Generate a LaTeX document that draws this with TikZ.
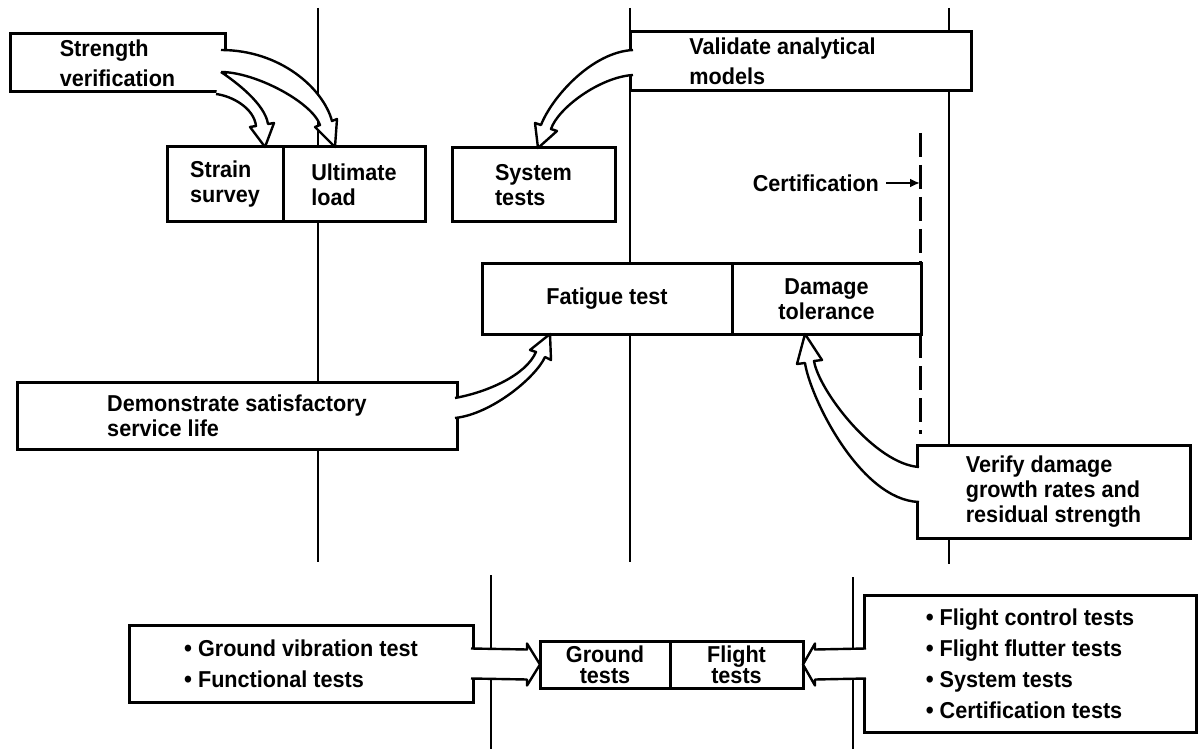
\documentclass[tikz,border=0pt]{standalone}
\usepackage{fontspec}
\setmainfont{Liberation Sans}[FakeStretch=0.94]
\usetikzlibrary{arrows.meta,calc,positioning}
\newcommand{\blt}{{\large\textbullet}\ }

\begin{document}
\begin{tikzpicture}[x=0.5pt,y=-0.5pt,
  box/.style={draw,line width=1.5pt,fill=white,inner sep=2pt,outer sep=0pt,align=left,
    font=\fontsize{11.5}{12.5}\selectfont\bfseries},
  smallbox/.style={box,align=center,font=\fontsize{11.5}{10.5}\selectfont\bfseries},
  band/.style={draw,fill=white,line width=1.2pt,line join=round},
  gate/.style={line width=1.3pt},
  certline/.style={line width=1.5pt,dash pattern=on 12pt off 4pt}]
  \useasboundingbox (0,0) rectangle (1201,749);
  \coordinate (g1) at (318,8);
  \coordinate (g2) at (630,8);
  \coordinate (g3) at (949,8);
  \coordinate (g1b) at (318,562);
  \coordinate (g2b) at (630,562);
  \coordinate (g3b) at (949,564);
  \coordinate (c1) at (920,133);
  \node[box,minimum width=107.5pt,minimum height=29pt] (strength) at (117.5,63) {Strength\\[2.5pt]verification};
  \node[box,minimum width=170.5pt,minimum height=29.5pt] (validate) at (800.5,61.5) {Validate analytical\hspace*{18pt}\\[2.5pt]models};
  \node[box,minimum width=58pt,minimum height=37.5pt] (strain) at (225,184.5) {Strain\\survey};
  \node[box,minimum width=71pt,minimum height=37.5pt,right=0pt of strain] (ultimate) {Ultimate\\load};
  \node[box,minimum width=81.5pt,minimum height=37pt] (system) at (533.5,185) {System\\tests};
  \node[box,minimum width=125pt,minimum height=35pt] (fatigue) at (607,299) {Fatigue test};
  \node[box,align=center,minimum width=94.5pt,minimum height=35pt,right=0pt of fatigue] (damage) {Damage\\tolerance};
  \node[box,minimum width=220pt,minimum height=33.5pt] (demonstrate) at (237,415.5) {Demonstrate satisfactory\\service life};
  \node[box,minimum width=136.5pt,minimum height=46.5pt] (verify) at (1053.5,491.5) {Verify damage\\growth rates and\\residual strength};
  \node[box,minimum width=172pt,minimum height=38.5pt] (groundlist) at (301,663.5) {\blt Ground vibration test\\[3pt]\blt Functional tests};
  \node[smallbox,minimum width=65pt,minimum height=23.5pt] (ground) at (605,664.5) {Ground\\tests};
  \node[smallbox,minimum width=66.5pt,minimum height=23.5pt,right=0pt of ground] (flight) {Flight\\tests};
  \node[box,minimum width=166pt,minimum height=68.5pt] (flightlist) at (1030,663.5) {\blt Flight control tests\\[3pt]\blt Flight flutter tests\\[3pt]\blt System tests\\[3pt]\blt Certification tests};
  \node[font=\fontsize{11.5}{12.5}\selectfont\bfseries,anchor=east] (cert) at (886,183) {Certification};

  \draw[gate] (g1) -- (g1 |- ultimate.north);
  \draw[gate] (g1 |- ultimate.south) -- (g1 |- demonstrate.north);
  \draw[gate] (g1 |- demonstrate.south) -- (g1b);
  \draw[gate] (g2) -- (g2 |- validate.north);
  \draw[gate] (g2 |- validate.south) -- (g2 |- fatigue.north);
  \draw[gate] (g2 |- fatigue.south) -- (g2b);
  \draw[gate] (g3) -- (g3 |- validate.north);
  \draw[gate] (g3 |- validate.south) -- (g3 |- verify.north);
  \draw[gate] (g3 |- verify.south) -- (g3b);
  \draw[gate] (491,575) -- (491,749);
  \draw[gate] (853,577) -- (853,749);
  \draw[certline] (c1) -- (c1 |- damage.north);
  \draw[certline] (c1 |- damage.south) -- (920,434);
  \draw[line width=1pt,-{Latex[length=5pt,width=4.5pt]}] (cert.east) -- (cert.east -| c1);

  \coordinate (ulttip) at ($(ultimate.north west)+(52,0)$);
  \coordinate (strtip) at ($(strain.north east)+(-18,0)$);
  \coordinate (systip) at ($(system.north west)+(86,0)$);
  \coordinate (fattip) at ($(fatigue.south west)+(68,0)$);
  \coordinate (damtip) at ($(damage.south west)+(73,0)$);
  \draw[band] ($(strength.north east)+(-4,16)$) .. controls (280,50) and (323,88) .. (332,121) -- (337,119) -- (ulttip) -- (315,127) -- (320,125) .. controls (312,102) and (255,72) .. ($(strength.north east)+(-4,38)$);
  \draw[band] ($(strength.north east)+(-4,38)$) .. controls (236,82) and (265,104) .. (268,124) -- (274,123) -- (strtip) -- (250,127) -- (256,126) .. controls (254,108) and (232,96) .. ($(strength.south east)+(-9,2)$);
  \draw[band] ($(validate.north west)+(3,18)$) .. controls (592,52) and (552,97) .. (541,125) -- (535,123) -- (systip) -- (557,131) -- (551,129) .. controls (558,108) and (600,77) .. ($(validate.north west)+(3,43)$);
  \draw[band] ($(demonstrate.north east)+(-2,16)$) .. controls (488,392) and (526,375) .. (536,352) -- (530,350) -- (fattip) -- (551,360) -- (545,357) .. controls (536,377) and (492,414) .. ($(demonstrate.north east)+(-2,36)$);
  \draw[band] ($(verify.north west)+(2,22)$) .. controls (875,464) and (819,391) .. (814,361) -- (822,360) -- (damtip) -- (797,364) -- (805,363) .. controls (810,397) and (860,500) .. ($(verify.north west)+(2,57)$);
  \draw[band] ($(groundlist.east)+(-2,-15)$) -- ($(ground.west)+(-13,-15)$) -- ($(ground.west)+(-13,-21)$) -- (ground.west) -- ($(ground.west)+(-13,21)$) -- ($(ground.west)+(-13,15)$) -- ($(groundlist.east)+(-2,15)$);
  \draw[band] ($(flightlist.west)+(2,-15)$) -- ($(flight.east)+(12,-15)$) -- ($(flight.east)+(12,-21)$) -- (flight.east) -- ($(flight.east)+(12,21)$) -- ($(flight.east)+(12,15)$) -- ($(flightlist.west)+(2,15)$);
\end{tikzpicture}
\end{document}
